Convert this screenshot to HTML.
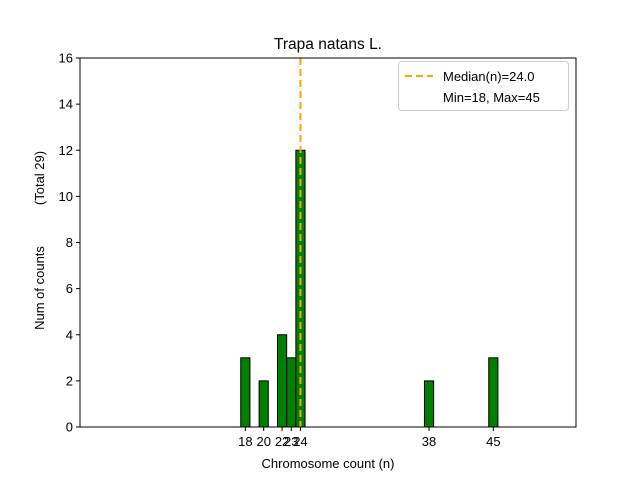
<!DOCTYPE html>
<html><head><meta charset="utf-8"><style>body{margin:0;background:#fff}svg{display:block;font-family:"Liberation Sans","DejaVu Sans",sans-serif}</style></head>
<body>
<svg id="c" width="640" height="480"></svg>
<script>
const categories=[18,20,22,23,24,38,45];
const counts=[3,2,4,3,12,2,3];
const xTicks=[18,20,22,23,24,38,45];
const yTicks=[0,2,4,6,8,10,12,14,16];
const median=24.0;
const L=80,R=576,T=58,B=427,xmin=0,xmax=54,ymin=0,ymax=16;
const X=v=>L+(v-xmin)/(xmax-xmin)*(R-L);
const Y=v=>B-(v-ymin)/(ymax-ymin)*(B-T);
const svg=document.getElementById('c');const NS='http://www.w3.org/2000/svg';
function mk(t,a,p){const e=document.createElementNS(NS,t);for(const k in a)e.setAttribute(k,a[k]);(p||svg).appendChild(e);return e;}
const bg=mk('rect',{x:L,y:T,width:R-L,height:B-T,fill:'#fff'});


const base=mk('line',{x1:X(0),x2:X(48.5),y1:Y(0),y2:Y(0),stroke:'#000','stroke-width':1});


categories.forEach((c,i)=>{const r=mk('rect',{x:X(c-0.5),y:Y(counts[i]),width:X(c+0.5)-X(c-0.5),height:Y(0)-Y(counts[i]),fill:'#008000',stroke:'#000','stroke-width':1});

});
const ml=mk('line',{x1:X(median),x2:X(median),y1:T,y2:B,stroke:'#ffa500','stroke-width':2,'stroke-dasharray':'7,4'});


const fr=mk('rect',{x:L,y:T,width:R-L,height:B-T,fill:'none',stroke:'#000','stroke-width':1});


xTicks.forEach(v=>{mk('line',{x1:X(v),x2:X(v),y1:B,y2:B+4,stroke:'#000'});const t=mk('text',{x:X(v),y:B+19,'text-anchor':'middle','font-size':13});t.textContent=v;

});
yTicks.forEach(v=>{mk('line',{x1:L-4,x2:L,y1:Y(v),y2:Y(v),stroke:'#000'});const t=mk('text',{x:L-7,y:Y(v)+4.5,'text-anchor':'end','font-size':13});t.textContent=v;

});
</script>
<div style="position:absolute;left:0;top:0;width:640px;height:480px;pointer-events:none">
<svg width="640" height="480" style="font-family:'Liberation Sans','DejaVu Sans',sans-serif">
<text x="328" y="49" text-anchor="middle" font-size="15.5">Trapa natans L.</text>
<text x="328" y="468" text-anchor="middle" font-size="13">Chromosome count (n)</text>
<text transform="translate(44,288) rotate(-90)" text-anchor="middle" font-size="13">Num of counts</text>
<text transform="translate(44,178) rotate(-90)" text-anchor="middle" font-size="13">(Total 29)</text>
<g>
<rect x="398.5" y="61.5" width="170" height="49" rx="3" fill="#fff" fill-opacity="0.8" stroke="#ccc"/>
<line x1="405" x2="433" y1="76" y2="76" stroke="#ffa500" stroke-width="2" stroke-dasharray="7,4"/>
<text x="443" y="81" font-size="13">Median(n)=24.0</text>
<text x="443" y="102" font-size="13">Min=18, Max=45</text>
</g>
</svg></div>
</body></html>
